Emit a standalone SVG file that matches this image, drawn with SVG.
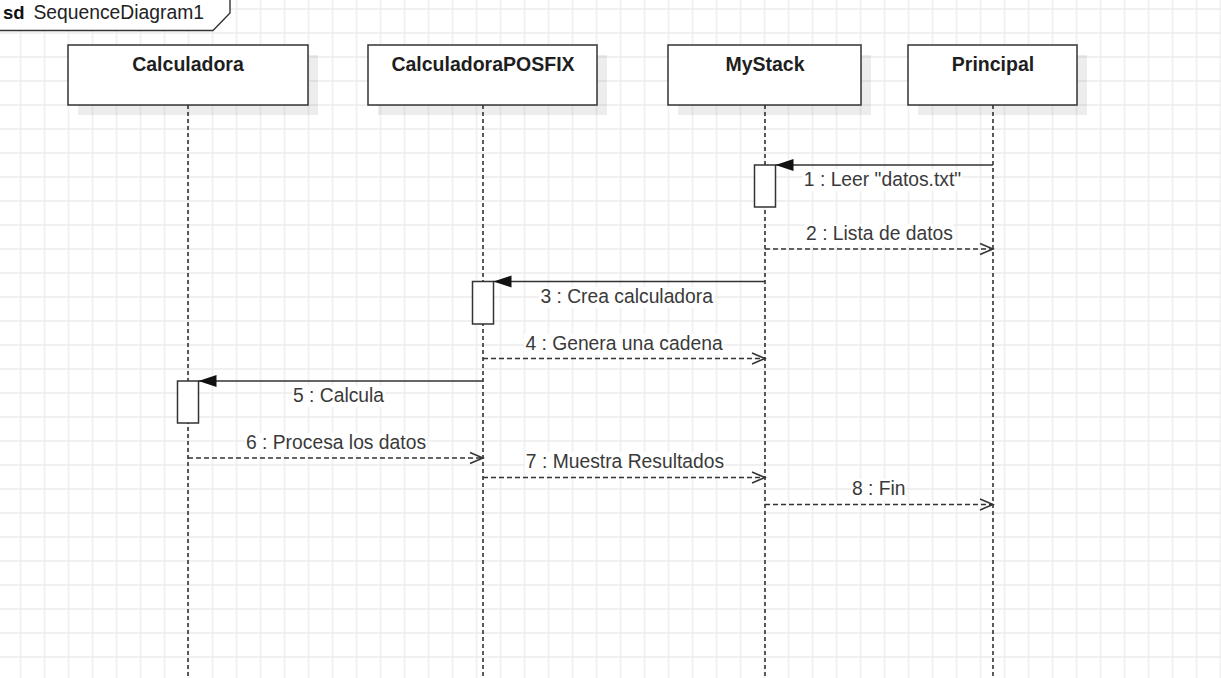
<svg xmlns="http://www.w3.org/2000/svg" width="1221" height="678" viewBox="0 0 1221 678">
<style>
.title{font-family:"Liberation Sans",Arial,sans-serif;font-size:19.5px;font-weight:bold;fill:#1e1e1e;text-anchor:middle}
.lbl{font-family:"Liberation Sans",Arial,sans-serif;font-size:19.3px;fill:#3a3a3a;text-anchor:middle}
.box{fill:#fff;stroke:#333;stroke-width:1.5}
.shadow{fill:#000;fill-opacity:0.07}
.life{stroke:#333;stroke-width:1.6;stroke-dasharray:4 3;fill:none}
.act{fill:#fff;stroke:#333;stroke-width:1.5}
.sync{stroke:#333;stroke-width:1.5;fill:none;marker-end:url(#filled)}
.ret{stroke:#333;stroke-width:1.5;stroke-dasharray:5 3;fill:none;marker-end:url(#open)}
.bg{fill:#fff}
</style>
<defs>
<pattern id="grid" patternUnits="userSpaceOnUse" x="8.5" y="-3" width="24" height="24">
<path d="M12 0V24M0 12H24" stroke="#ebebeb" stroke-width="1.3" fill="none"/>
</pattern>
<marker id="filled" markerUnits="userSpaceOnUse" markerWidth="19" markerHeight="15" refX="18" refY="7.5" orient="auto">
<path d="M0,1.5 L18,7.5 L0,13.5 Z" fill="#111"/>
</marker>
<marker id="open" markerUnits="userSpaceOnUse" markerWidth="16" markerHeight="14" refX="14" refY="7" orient="auto">
<path d="M1,1.5 L14,7 L1,12.5" fill="none" stroke="#333" stroke-width="1.5"/>
</marker>
</defs>
<rect width="1221" height="678" fill="#fff"/>
<rect width="1221" height="678" fill="url(#grid)"/>

<g id="frame">
<path d="M-1,-1 H230 V13 L213,30.5 H-1 Z" fill="#fff" stroke="#333" stroke-width="1.4"/>
<text x="3" y="19" style="font-family:'Liberation Sans',Arial,sans-serif;font-size:18.5px;font-weight:bold;fill:#111">sd</text>
<text x="33.5" y="19" style="font-family:'Liberation Sans',Arial,sans-serif;font-size:19.3px;fill:#222">SequenceDiagram1</text>
</g>

<g id="calculadora">
<rect class="shadow" x="78" y="55" width="240" height="60"/>
<rect class="box" x="68" y="45" width="240" height="60"/>
<text class="title" x="188" y="71">Calculadora</text>
<line class="life" x1="188" y1="105" x2="188" y2="678"/>
<rect class="act" x="177.5" y="381" width="21" height="42"/>
</g>

<g id="calculadoraposfix">
<rect class="shadow" x="378" y="55" width="229" height="60"/>
<rect class="box" x="368" y="45" width="229" height="60"/>
<text class="title" x="483" y="71">CalculadoraPOSFIX</text>
<line class="life" x1="483" y1="105" x2="483" y2="678"/>
<rect class="act" x="472.5" y="281.5" width="21" height="42.5"/>
</g>

<g id="mystack">
<rect class="shadow" x="678" y="55" width="193" height="60"/>
<rect class="box" x="668" y="45" width="193" height="60"/>
<text class="title" x="765" y="71">MyStack</text>
<line class="life" x1="765" y1="105" x2="765" y2="678"/>
<rect class="act" x="754.5" y="165" width="21" height="42"/>
</g>

<g id="principal">
<rect class="shadow" x="918" y="55" width="169" height="60"/>
<rect class="box" x="908" y="45" width="169" height="60"/>
<text class="title" x="993" y="71">Principal</text>
<line class="life" x1="993" y1="105" x2="993" y2="678"/>
</g>

<g id="connectors">
<line class="sync" x1="993" y1="165" x2="775.5" y2="165"/>
<rect class="bg" x="803" y="170" width="159" height="21"/>
<text class="lbl" x="882.5" y="186">1 : Leer "datos.txt"</text>

<line class="ret" x1="765" y1="249" x2="993" y2="249"/>
<rect class="bg" x="805" y="224" width="148" height="21"/>
<text class="lbl" x="879.5" y="240">2 : Lista de datos</text>

<line class="sync" x1="765" y1="281.5" x2="493.5" y2="281.5"/>
<rect class="bg" x="539" y="287" width="176" height="21"/>
<text class="lbl" x="626.7" y="303">3 : Crea calculadora</text>

<line class="ret" x1="483" y1="358.5" x2="765" y2="358.5"/>
<rect class="bg" x="524" y="334" width="200" height="21"/>
<text class="lbl" x="624" y="350">4 : Genera una cadena</text>

<line class="sync" x1="483" y1="381" x2="198.5" y2="381"/>
<rect class="bg" x="292" y="386" width="93" height="21"/>
<text class="lbl" x="338.5" y="402">5 : Calcula</text>

<line class="ret" x1="188" y1="458" x2="483" y2="458"/>
<rect class="bg" x="245" y="433" width="182" height="21"/>
<text class="lbl" x="336" y="449">6 : Procesa los datos</text>

<line class="ret" x1="483" y1="477.5" x2="765" y2="477.5"/>
<rect class="bg" x="525" y="452" width="200" height="21"/>
<text class="lbl" x="625" y="468">7 : Muestra Resultados</text>

<line class="ret" x1="765" y1="504.5" x2="993" y2="504.5"/>
<rect class="bg" x="851" y="479" width="55" height="21"/>
<text class="lbl" x="878.7" y="495">8 : Fin</text>
</g>
</svg>
